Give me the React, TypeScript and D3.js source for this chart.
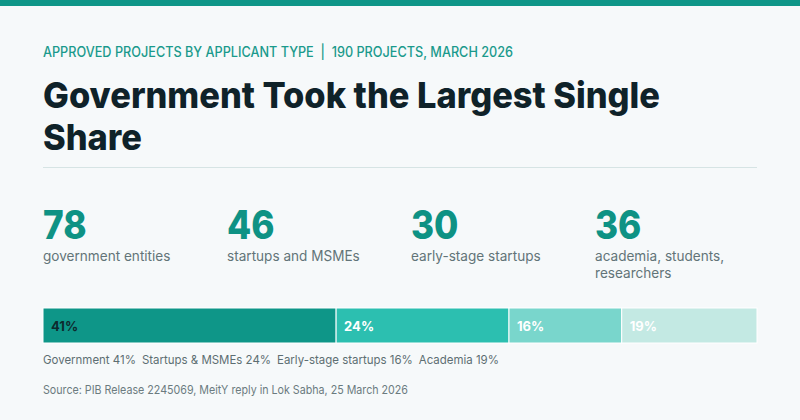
import React, { useEffect, useRef } from "react";
import * as d3 from "d3";

const categories = ["Government", "Startups & MSMEs", "Early-stage startups", "Academia"];
const counts = [78, 46, 30, 36];
const shares = [41, 24, 16, 19];
const statLabels = [["government entities"], ["startups and MSMEs"], ["early-stage startups"], ["academia, students,", "researchers"]];
const segColors = ["#0e9688", "#2cbfb0", "#79d6cc", "#c3e9e3"];
const segLabelColors = ["#0d2a2e", "#ffffff", "#ffffff", "#ffffff"];

const subtitle = "APPROVED PROJECTS BY APPLICANT TYPE\u00a0\u00a0|\u00a0\u00a0190 PROJECTS, MARCH 2026";
const titleLines = ["Government Took the Largest Single", "Share"];
const source = "Source: PIB Release 2245069, MeitY reply in Lok Sabha, 25 March 2026";

const W = 800;
const H = 420;
const FONT = "Inter, 'Noto Sans', sans-serif";

function condense(sel: d3.Selection<SVGTextElement, unknown, null, undefined>, k: number) {
  const w = (sel.node() as SVGTextElement).getComputedTextLength();
  sel.attr("textLength", w * k).attr("lengthAdjust", "spacingAndGlyphs");
  return w * k;
}

export default function App() {
  const ref = useRef<SVGSVGElement | null>(null);

  useEffect(() => {
    const svg = d3.select(ref.current);
    svg.selectAll("*").remove();
    const left = 43, right = 757;

    svg.append("rect").attr("width", W).attr("height", H).attr("fill", "#f6f9fa");
    svg.append("rect").attr("width", W).attr("height", 6).attr("fill", "#0e9688");

    svg.append("text").attr("x", left).attr("y", 57)
      .attr("font-family", FONT).attr("font-size", 14).attr("font-weight", 500)
      .attr("fill", "#1a9a8c").attr("textLength", 470).attr("lengthAdjust", "spacingAndGlyphs")
      .text(subtitle);

    const tl = [617, 99];
    titleLines.forEach((t, i) => {
      svg.append("text").attr("x", left).attr("y", 108 + i * 42)
        .attr("font-family", FONT).attr("font-size", 36).attr("font-weight", 800)
        .attr("fill", "#0f2229").attr("textLength", tl[i]).attr("lengthAdjust", "spacingAndGlyphs")
        .text(t);
    });

    svg.append("line").attr("x1", left).attr("x2", right).attr("y1", 167.5).attr("y2", 167.5)
      .attr("stroke", "#d6e4e4").attr("stroke-width", 1);

    const colX = d3.scalePoint<number>().domain(d3.range(4)).range([left, left + 184 * 3]);
    counts.forEach((c, i) => {
      const x = colX(i)!;
      const n = svg.append("text").attr("x", x).attr("y", 239)
        .attr("font-family", FONT).attr("font-size", 40).attr("font-weight", 800)
        .attr("fill", "#0e9284").text(String(c));
      condense(n, 0.88);
      statLabels[i].forEach((l, j) => {
        const t = svg.append("text").attr("x", x).attr("y", 261 + j * 17)
          .attr("font-family", FONT).attr("font-size", 14).attr("font-weight", 400)
          .attr("fill", "#627478").text(l);
        condense(t, 0.97);
      });
    });

    const total = d3.sum(counts);
    const x = d3.scaleLinear().domain([0, total]).range([left, right]);
    const cum = [0, ...Array.from(d3.cumsum(counts))];
    const barY = 308, barH = 35;
    counts.forEach((c, i) => {
      svg.append("rect").attr("x", x(cum[i])).attr("y", barY)
        .attr("width", x(cum[i + 1]) - x(cum[i])).attr("height", barH)
        .attr("fill", segColors[i]).attr("stroke", "#ffffff").attr("stroke-width", 1);
      svg.append("text").attr("x", x(cum[i]) + 8).attr("y", barY + 23)
        .attr("font-family", FONT).attr("font-size", 13).attr("font-weight", 700)
        .attr("fill", segLabelColors[i]).text(`${shares[i]}%`);
    });

    let lx = left;
    categories.forEach((cat, i) => {
      const t = svg.append("text").attr("x", lx).attr("y", 364)
        .attr("font-family", FONT).attr("font-size", 12.2).attr("font-weight", 400)
        .attr("fill", "#5d6e72").text(`${cat} ${shares[i]}%`);
      lx += condense(t, 0.94) + 6;
    });

    const s = svg.append("text").attr("x", left).attr("y", 394)
      .attr("font-family", FONT).attr("font-size", 11.8).attr("font-weight", 400)
      .attr("fill", "#6b7b7f").text(source);
    const sw = (s.node() as SVGTextElement).getComputedTextLength();
    s.attr("textLength", Math.min(sw, 365)).attr("lengthAdjust", "spacingAndGlyphs");
  }, []);

  return (
    <>
      <style>{`body{margin:0}`}</style>
      <svg ref={ref} width={W} height={H} style={{ display: "block" }} />
    </>
  );
}
